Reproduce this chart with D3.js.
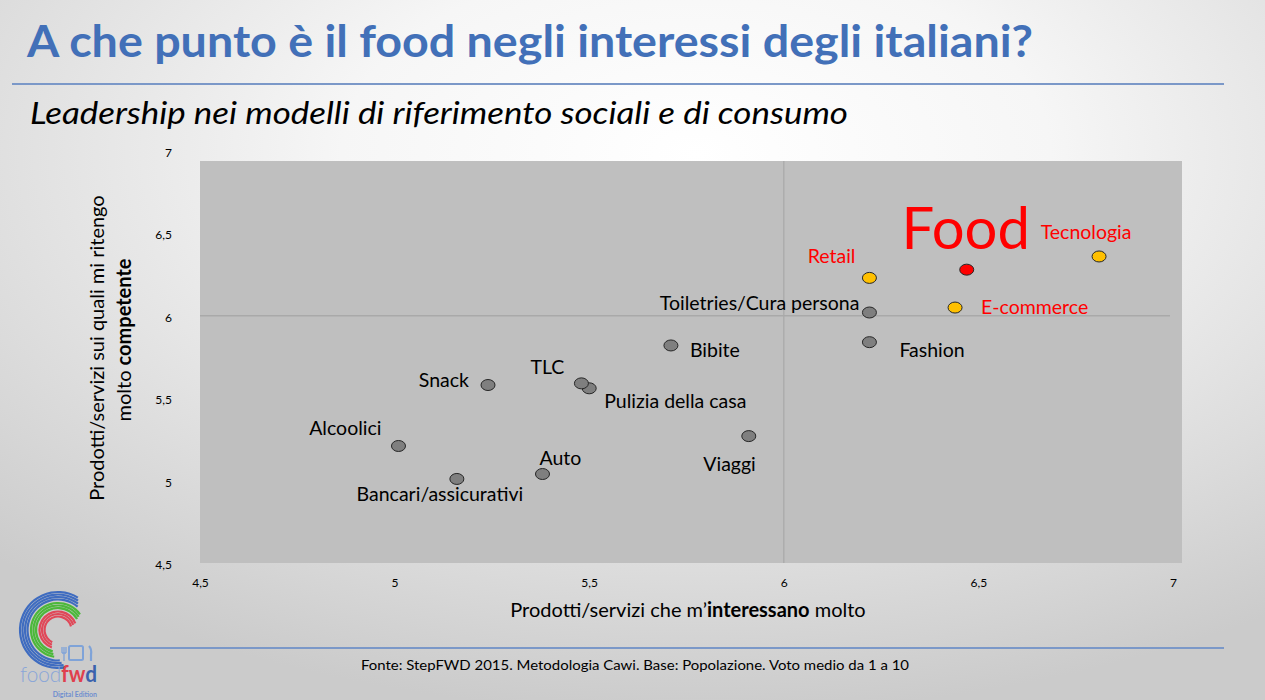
<!DOCTYPE html>
<html>
<head>
<meta charset="utf-8">
<script src="https://cdn.jsdelivr.net/npm/d3@7"></script>
<style>
  html, body { margin: 0; padding: 0; }
  body { width: 1265px; height: 700px; overflow: hidden; }
  svg { display: block; }
</style>
</head>
<body>
<svg id="chart" width="1265" height="700"></svg>
<script>
// ---------------- DATA ----------------
const categories = ["Food", "Tecnologia", "Retail", "E-commerce", "Toiletries/Cura persona", "Fashion",
  "Bibite", "TLC", "Pulizia della casa", "Snack", "Alcoolici", "Bancari/assicurativi", "Auto", "Viaggi"];
const interesse = [6.47, 6.81, 6.22, 6.44, 6.22, 6.22, 5.71, 5.48, 5.50, 5.24, 5.01, 5.16, 5.38, 5.91];
const competenza = [6.28, 6.36, 6.23, 6.05, 6.02, 5.84, 5.82, 5.59, 5.56, 5.58, 5.21, 5.01, 5.04, 5.27];
const gruppo = ["food", "top", "top", "top", "other", "other", "other", "other", "other", "other", "other", "other", "other", "other"];
const tickValues = [4.5, 5, 5.5, 6, 6.5, 7];
const refX = 6, refY = 6;

const title = "A che punto è il food negli interessi degli italiani?";
const subtitle = "Leadership nei modelli di riferimento sociali e di consumo";
const source = "Fonte: StepFWD 2015. Metodologia Cawi. Base: Popolazione. Voto medio da 1 a 10";

// ---------------- LAYOUT / STYLE ----------------
const labelLayout = {
  "Food": {anchor: "middle", dx: -1, dy: -21, size: 58, base: "alphabetic"},
  "Tecnologia": {anchor: "middle", dx: -13, dy: -25, size: 19.5},
  "Retail": {anchor: "end", dx: -14, dy: -22, size: 19.5},
  "E-commerce": {anchor: "start", dx: 26, dy: -1, size: 19.5},
  "Toiletries/Cura persona": {anchor: "end", dx: -10, dy: -10, size: 19.5},
  "Fashion": {anchor: "start", dx: 30, dy: 7, size: 19.5},
  "Bibite": {anchor: "start", dx: 19, dy: 4, size: 19.5},
  "TLC": {anchor: "end", dx: -17, dy: -17, size: 19.5},
  "Pulizia della casa": {anchor: "start", dx: 15, dy: 12, size: 19.5},
  "Snack": {anchor: "end", dx: -19, dy: -6, size: 19.5},
  "Alcoolici": {anchor: "end", dx: -17, dy: -18, size: 19.5},
  "Bancari/assicurativi": {anchor: "middle", dx: -17, dy: 15, size: 19.5},
  "Auto": {anchor: "start", dx: -3, dy: -17, size: 19.5},
  "Viaggi": {anchor: "end", dx: 7, dy: 27, size: 19.5}
};
const fillFor = {food: "#ff0000", top: "#ffc000", other: "#7f7f7f"};
const textFor = {food: "#ff0000", top: "#ff0000", other: "#000000"};
const FONT = "Lato, 'Open Sans', sans-serif";

const svg = d3.select("#chart");
const defs = svg.append("defs");
const grad = defs.append("radialGradient").attr("id", "bg")
  .attr("cx", "55%").attr("cy", "22%").attr("r", "80%");
grad.append("stop").attr("offset", "0%").attr("stop-color", "#ffffff");
grad.append("stop").attr("offset", "35%").attr("stop-color", "#f6f6f6");
grad.append("stop").attr("offset", "100%").attr("stop-color", "#cbcbcb");
svg.append("rect").attr("width", 1265).attr("height", 700).attr("fill", "url(#bg)");

// Title
svg.append("text").attr("x", 27).attr("y", 57)
  .attr("font-family", FONT).attr("font-weight", 700).attr("font-size", 43)
  .attr("fill", "#4270b8").attr("textLength", 1006).attr("lengthAdjust", "spacingAndGlyphs")
  .text(title);
svg.append("line").attr("x1", 12).attr("x2", 1224).attr("y1", 84).attr("y2", 84)
  .attr("stroke", "#7b98c8").attr("stroke-width", 2);
svg.append("text").attr("x", 30).attr("y", 124)
  .attr("font-family", FONT).attr("font-style", "italic").attr("font-size", 31)
  .attr("fill", "#000").attr("textLength", 818).attr("lengthAdjust", "spacingAndGlyphs")
  .text(subtitle);

// Scales
const x = d3.scaleLinear().domain([4.5, 7]).range([200, 1173]);
const y = d3.scaleLinear().domain([4.5, 7]).range([563, 151]);
const loc = d3.formatLocale({decimal: ",", thousands: ".", grouping: [3], currency: ["€", ""]});
const fmt = loc.format("~g");

// Plot area
svg.append("rect").attr("x", x(4.5)).attr("y", y(7) + 10)
  .attr("width", x(7) - x(4.5) + 9).attr("height", y(4.5) - y(7) - 10)
  .attr("fill", "#bfbfbf");
svg.append("line").attr("x1", x(4.5)).attr("x2", x(7) - 3).attr("y1", y(refY)).attr("y2", y(refY))
  .attr("stroke", "#a9a9a9").attr("stroke-width", 1.5);
svg.append("line").attr("x1", x(refX)).attr("x2", x(refX)).attr("y1", y(7) + 10).attr("y2", y(4.5))
  .attr("stroke", "#a9a9a9").attr("stroke-width", 1.2);

// Axes
const xAxis = svg.append("g").attr("transform", `translate(0,${y(4.5) + 12})`)
  .call(d3.axisBottom(x).tickValues(tickValues).tickSize(0).tickFormat(fmt));
const yAxis = svg.append("g").attr("transform", `translate(${x(4.5) - 25},0)`)
  .call(d3.axisLeft(y).tickValues(tickValues).tickSize(0).tickFormat(fmt));
[xAxis, yAxis].forEach(g => {
  g.select(".domain").remove();
  g.selectAll("text").attr("font-family", FONT).attr("font-size", 12).attr("fill", "#000");
});
yAxis.selectAll("text").attr("dy", "0.45em");

// Points
const data = categories.map((c, i) => ({name: c, x: interesse[i], y: competenza[i], g: gruppo[i]}));
const order = data.slice().reverse();
svg.append("g").selectAll("ellipse").data(order).join("ellipse")
  .attr("cx", d => x(d.x)).attr("cy", d => y(d.y))
  .attr("rx", 7).attr("ry", 5.5)
  .attr("fill", d => fillFor[d.g]).attr("stroke", "#262626").attr("stroke-width", 1);

// Labels
svg.append("g").selectAll("text").data(data).join("text")
  .attr("x", d => x(d.x) + labelLayout[d.name].dx)
  .attr("y", d => y(d.y) + labelLayout[d.name].dy)
  .attr("text-anchor", d => labelLayout[d.name].anchor)
  .attr("dominant-baseline", d => labelLayout[d.name].base || "central")
  .attr("font-family", FONT)
  .attr("font-size", d => labelLayout[d.name].size)
  .attr("fill", d => textFor[d.g])
  .text(d => d.name);

// Axis titles
const xt = svg.append("text").attr("x", 688).attr("y", 617).attr("text-anchor", "middle")
  .attr("font-family", FONT).attr("font-size", 20).attr("fill", "#000");
xt.append("tspan").text("Prodotti/servizi che m’");
xt.append("tspan").attr("font-weight", 700).text("interessano");
xt.append("tspan").text(" molto");

const yt = svg.append("g");
yt.append("text").attr("transform", "translate(104,348) rotate(-90)").attr("text-anchor", "middle")
  .attr("font-family", FONT).attr("font-size", 20).attr("fill", "#000")
  .text("Prodotti/servizi sui quali mi ritengo");
const yt2 = yt.append("text").attr("transform", "translate(131,340) rotate(-90)").attr("text-anchor", "middle")
  .attr("font-family", FONT).attr("font-size", 20).attr("fill", "#000");
yt2.append("tspan").text("molto ");
yt2.append("tspan").attr("font-weight", 700).text("competente");

// Footer
svg.append("line").attr("x1", 110).attr("x2", 1224).attr("y1", 648).attr("y2", 648)
  .attr("stroke", "#7b98c8").attr("stroke-width", 2);
svg.append("text").attr("x", 635).attr("y", 670).attr("text-anchor", "middle")
  .attr("font-family", FONT).attr("font-size", 14).attr("fill", "#000")
  .attr("textLength", 548).attr("lengthAdjust", "spacingAndGlyphs")
  .text(source);

// Logo
const logo = svg.append("g");
const arc = d3.arc();
const rings = [
  {r: 38, c: "#3f6cc0", a0: 0.55, a1: -3.35}, {r: 35.5, c: "#3f6cc0", a0: 0.6, a1: -3.3},
  {r: 33, c: "#3f6cc0", a0: 0.65, a1: -3.25}, {r: 30.5, c: "#3f6cc0", a0: 0.7, a1: -3.2},
  {r: 27, c: "#4cb83a", a0: 0.95, a1: -3.0}, {r: 24.5, c: "#4cb83a", a0: 1.0, a1: -2.95},
  {r: 22, c: "#4cb83a", a0: 1.05, a1: -2.9},
  {r: 18.5, c: "#e04858", a0: 1.2, a1: -2.8}, {r: 16, c: "#e04858", a0: 1.25, a1: -2.75},
  {r: 13.5, c: "#e04858", a0: 1.3, a1: -2.7}
];
logo.selectAll("path").data(rings).join("path")
  .attr("transform", "translate(58,630)")
  .attr("d", d => arc({innerRadius: d.r - 1.1, outerRadius: d.r + 1.1, startAngle: d.a1, endAngle: d.a0}))
  .attr("fill", d => d.c);
// fork, plate, knife
logo.append("path").attr("d", "M62,647 v6 M64,647 v6 M66,647 v6 M62,653 h4 M64,653 v8")
  .attr("stroke", "#7fa3d8").attr("stroke-width", 1.3).attr("fill", "none");
logo.append("rect").attr("x", 69).attr("y", 646).attr("width", 14).attr("height", 14).attr("rx", 1.5)
  .attr("fill", "none").attr("stroke", "#7fa3d8").attr("stroke-width", 2);
logo.append("path").attr("d", "M89,646 q3,3 2,9 v6").attr("stroke", "#7fa3d8").attr("stroke-width", 2.2).attr("fill", "none");
const lt = logo.append("text").attr("x", 20).attr("y", 682).attr("font-family", FONT).attr("font-size", 22)
  .attr("textLength", 77).attr("lengthAdjust", "spacingAndGlyphs");
lt.append("tspan").attr("fill", "#8aa6d8").attr("font-weight", 300).text("food");
lt.append("tspan").attr("fill", "#e0404d").attr("font-weight", 700).text("fw");
lt.append("tspan").attr("fill", "#3b62ad").attr("font-weight", 700).text("d");
logo.append("text").attr("x", 97).attr("y", 697).attr("text-anchor", "end")
  .attr("font-family", FONT).attr("font-size", 7).attr("font-weight", 700).attr("fill", "#6f8fcf")
  .text("Digital Edition");
</script>
</body>
</html>
